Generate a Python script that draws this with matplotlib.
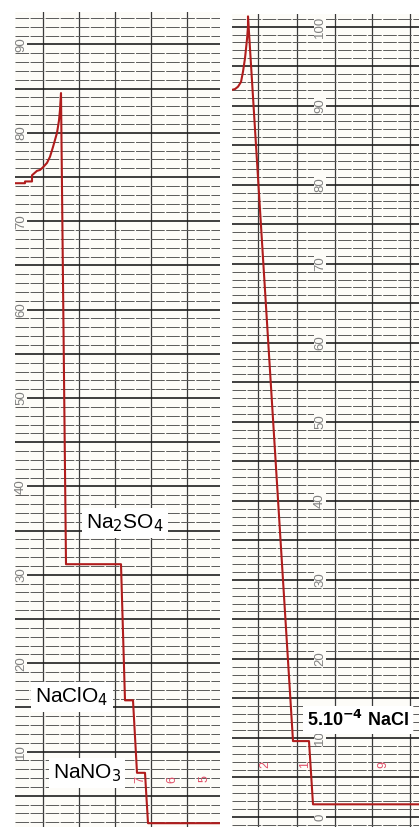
import matplotlib
matplotlib.use("Agg")
import matplotlib.pyplot as plt
import numpy as np

plt.rcParams['font.family'] = ['Liberation Sans', 'DejaVu Sans']

# left strip: time (chart units) and signal
time_left = [0, 1.0, 1.0, 1.7, 1.7, 2.0, 2.2, 2.5, 2.8, 3.2, 3.5, 3.8, 4.2, 4.4, 4.5, 4.6,
             5.1, 10.6, 11.0, 11.8, 12.2, 13.0, 13.3, 20.5]
signal_left = [74.3, 74.3, 74.5, 74.5, 75.2, 75.5, 75.7, 75.8, 76.1, 76.6, 77.3, 78.4, 80.0,
               81.4, 82.6, 84.5, 31.2, 31.2, 15.8, 15.8, 7.6, 7.6, 1.9, 1.9]

# right strip
time_right = [0, 0.3, 0.6, 0.9, 1.1, 1.3, 1.5, 1.6, 1.6, 6.1, 7.7, 8.1, 18.7]
signal_right = [92.0, 92.1, 92.4, 93.0, 94.3, 96.0, 98.4, 100.0, 101.3, 9.6, 9.6, 1.6, 1.6]

scale_left = [90, 80, 70, 60, 50, 40, 30, 20, 10]
scale_right = [100, 90, 80, 70, 60, 50, 40, 30, 20, 10, 0]
vlines_left = [2.8, 6.4, 10.0, 13.6, 17.2, 20.8]
vlines_right = [2.6, 6.5, 10.3, 14.0, 17.8]

red = '#b01c1c'
W, H = 419, 827

fig = plt.figure(figsize=(W / 100, H / 100), dpi=100)
fig.patch.set_facecolor('white')

axL = fig.add_axes([15 / W, 0, 205 / W, (H - 12) / H])
axR = fig.add_axes([232 / W, 0, 187 / W, (H - 14) / H])

def paper(ax, vl):
    ax.set_facecolor('#fdfcf8')
    ax.set_yticks(np.arange(-5, 110, 5))
    ax.set_yticks(np.arange(-5, 110, 1), minor=True)
    ax.set_xticks(vl)
    ax.grid(which='major', axis='y', color='#1e1e1e', lw=1.2)
    ax.grid(which='minor', axis='y', color='#5a5a5a', lw=0.7, ls=(0, (14, 1.5)))
    ax.grid(which='major', axis='x', color='#3a3a3a', lw=0.9)
    ax.tick_params(which='both', length=0, labelbottom=False, labelleft=False)
    for s in ax.spines.values():
        s.set_visible(False)
    ax.set_axisbelow(True)

paper(axL, vlines_left)
paper(axR, vlines_right)

axL.set_xlim(0, 20.5)
axL.set_ylim(1.47, 93.67)
axR.set_xlim(0, 18.7)
axR.set_ylim(-1.27, 101.6)

axL.plot(time_left, signal_left, color=red, lw=1.5, zorder=5)
axR.plot(time_right, signal_right, color=red, lw=1.5, zorder=5)

for v in scale_left:
    axL.text(0.6, v, str(v), rotation=90, ha='center', va='center', fontsize=9.5,
             color='#808080', zorder=3,
             bbox=dict(facecolor='#fdfcf8', edgecolor='none', pad=0.3))
for v in scale_right:
    axR.text(8.8, v, str(v), rotation=90, ha='center', va='center', fontsize=9.5,
             color='#808080', zorder=3,
             bbox=dict(facecolor='#fdfcf8', edgecolor='none', pad=0.3))

# red time marks on the paper
for x, s in [(12.5, '7'), (15.7, '6'), (19.0, '5')]:
    axL.text(x, 6.9, s, rotation=90, ha='center', va='center', fontsize=9,
             color='#e0506a', zorder=6)
for x, s in [(3.3, '2'), (7.3, '1'), (15.1, '9')]:
    axR.text(x, 6.6, s, rotation=90, ha='center', va='center', fontsize=9,
             color='#e0506a', zorder=6)

box = dict(facecolor='white', edgecolor='none', pad=3)
fig.text(125 / W, 1 - 523 / H, 'Na$_2$SO$_4$', ha='center', va='center', fontsize=15, bbox=box, zorder=10)
fig.text(72 / W, 1 - 697 / H, 'NaClO$_4$', ha='center', va='center', fontsize=15, bbox=box, zorder=10)
fig.text(87 / W, 1 - 773 / H, 'NaNO$_3$', ha='center', va='center', fontsize=15, bbox=box, zorder=10)
fig.text(307 / W, 1 - 720 / H, '5.10$^{\\mathbf{-4}}$ NaCl', ha='left', va='center', fontsize=13,
         fontweight='bold', bbox=box, zorder=10)

fig.savefig('out.png', dpi=100)
